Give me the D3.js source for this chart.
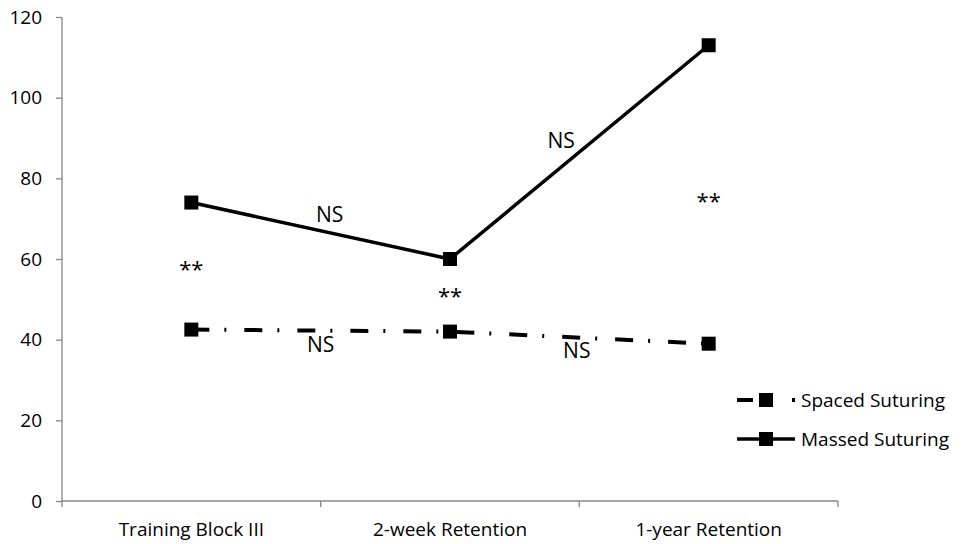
<!DOCTYPE html>
<html><head><meta charset="utf-8">
<script src="https://cdn.jsdelivr.net/npm/d3@7"></script>
<style>body{margin:0;background:#fff}svg text{font-family:"Open Sans",sans-serif;fill:#000}</style>
</head><body><svg id="c" width="962" height="544"></svg>
<script>
const categories = ["Training Block III","2-week Retention","1-year Retention"];
const spaced = [42.5, 42, 39];
const massed = [74, 60, 113];
const yTicks = [0,20,40,60,80,100,120];
const stars = [{i:0,v:55.5},{i:1,v:48.8},{i:2,v:72.4}];
const nsLabels = [{i:0.535,v:69.2,t:"NS"},{i:1.43,v:87.5,t:"NS"},{i:0.5,v:36.9,t:"NS"},{i:1.49,v:35.5,t:"NS"}];

const svg = d3.select("#c");
const m = {l:62, r:124, t:17, b:43};
const W = 962, H = 544;
const FONT = "'Open Sans',sans-serif";
const FS = 19;
const x = d3.scaleBand().domain(categories).range([m.l, W-m.r]);
const y = d3.scaleLinear().domain([0,120]).range([H-m.b, m.t]);
const cx = i => x(categories[0]) + x.bandwidth()*(i+0.5);

const gy = svg.append("g").attr("transform",`translate(${m.l},0)`)
  .call(d3.axisLeft(y).tickValues(yTicks).tickSize(6).tickPadding(14));
const gx = svg.append("g").attr("transform",`translate(0,${H-m.b})`)
  .call(d3.axisBottom(x).tickSize(0).tickPadding(22));
[gy,gx].forEach(g=>{g.selectAll("path,line").attr("stroke","#868686").attr("stroke-width",1.3);
  g.selectAll("text").attr("font-size",FS).attr("font-family",FONT);});
gx.select(".domain").attr("d",`M${m.l},0H${W-m.r}`);
gx.selectAll(".bt").data(d3.range(categories.length+1)).enter().append("line")
  .attr("x1",i=>m.l+i*x.bandwidth()).attr("x2",i=>m.l+i*x.bandwidth()).attr("y1",0).attr("y2",6)
  .attr("stroke","#868686").attr("stroke-width",1.3);
gy.select(".domain").attr("d",`M0,${H-m.b}V${m.t}`);

const line = d3.line().x((d,i)=>cx(i)).y(d=>y(d));
const dash = "18,15,2,18";
svg.append("path").attr("d",line(spaced)).attr("fill","none").attr("stroke","#000")
  .attr("stroke-width",4).attr("stroke-dasharray",dash);
svg.append("path").attr("d",line(massed)).attr("fill","none").attr("stroke","#000")
  .attr("stroke-width",3.5);
const ms = 14;
[spaced,massed].forEach(s=>{
  svg.selectAll(null).data(s).enter().append("rect")
    .attr("x",(d,i)=>cx(i)-ms/2).attr("y",d=>y(d)-ms/2).attr("width",ms).attr("height",ms).attr("fill","#000");
});

svg.selectAll(null).data(stars).enter().append("text")
  .attr("x",d=>cx(d.i)).attr("y",d=>y(d.v)).attr("text-anchor","middle").attr("font-size",22).text("**");
svg.selectAll(null).data(nsLabels).enter().append("text")
  .attr("x",d=>cx(d.i)).attr("y",d=>y(d.v)).attr("text-anchor","middle").attr("font-size",21).text(d=>d.t);

const leg = [{n:"Spaced Suturing",dash:true,y:400},{n:"Massed Suturing",dash:false,y:439}];
leg.forEach(l=>{
  const g = svg.append("g");
  g.append("line").attr("x1",737).attr("x2",795).attr("y1",l.y).attr("y2",l.y).attr("stroke","#000")
    .attr("stroke-width",l.dash?4:3.5).attr("stroke-dasharray",l.dash?"16,39,3,10":null);
  g.append("rect").attr("x",766-ms/2).attr("y",l.y-ms/2).attr("width",ms).attr("height",ms).attr("fill","#000");
  g.append("text").attr("x",801).attr("y",l.y+7).attr("font-size",FS).text(l.n);
});
</script></body></html>
